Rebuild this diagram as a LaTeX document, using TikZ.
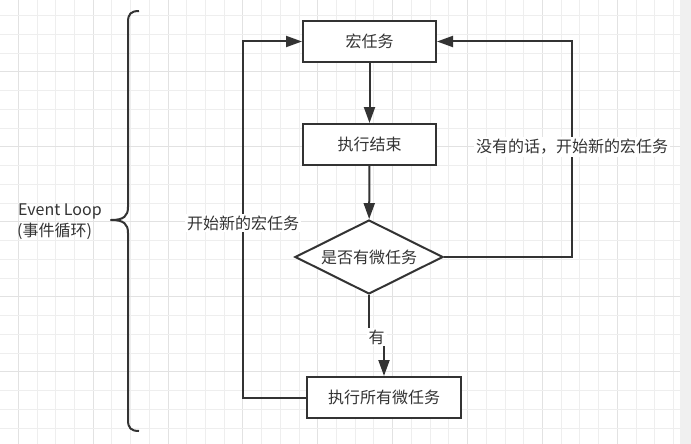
\documentclass[tikz,border=0pt]{standalone}
\usepackage{fontspec}
\setmainfont{Noto Sans CJK SC}
\usetikzlibrary{arrows.meta,shapes.geometric}
\definecolor{ink}{HTML}{333333}
\definecolor{gridminor}{HTML}{EEEEEE}
\definecolor{gridmajor}{HTML}{E2E2E2}
\definecolor{strip}{HTML}{F0F0F0}
\tikzset{
  box/.style={draw=ink, line width=2pt, fill=white, minimum width=133pt, minimum height=41pt, inner sep=0pt, font=\fontsize{16pt}{19pt}\selectfont, text=ink},
  decide/.style={draw=ink, line width=2pt, fill=white, diamond, aspect=2, minimum width=148pt, minimum height=74pt, inner sep=0pt, font=\fontsize{16pt}{19pt}\selectfont, text=ink},
  flow/.style={draw=ink, line width=2pt, -{Triangle[length=16pt,width=11pt]}},
  lbl/.style={fill=white, inner sep=2pt, font=\fontsize{16pt}{19pt}\selectfont, text=ink},
  sidetext/.style={inner sep=0pt, anchor=west, font=\fontsize{16pt}{19pt}\selectfont, text=ink},
}
\begin{document}
\begin{tikzpicture}[x=1pt, y=-1pt]
\useasboundingbox (0,0) rectangle (691,444);
\fill[white] (0,0) rectangle (691,444);
% grid
\foreach \k in {0,...,35} {
  \pgfmathtruncatemacro{\m}{mod(\k,4)}
  \ifnum\m=0 \def\gc{gridmajor}\else\def\gc{gridminor}\fi
  \draw[\gc, line width=1pt] ({18.3+18.72*\k},0) -- ({18.3+18.72*\k},444);
}
\foreach \k in {0,...,22} {
  \pgfmathtruncatemacro{\m}{mod(\k,4)}
  \ifnum\m=3 \def\gc{gridmajor}\else\def\gc{gridminor}\fi
  \draw[\gc, line width=1pt] (0,{15.7+18.75*\k}) -- (680,{15.7+18.75*\k});
}
\fill[strip] (680,0) rectangle (691,444);

% nodes
\node[box] (m) at (369.5,41.5) {宏任务};
\node[box] (e) at (369.5,144.5) {执行结束};
\node[decide] (d) at (369,257) {是否有微任务};
\node[box, minimum width=154pt] (a) at (384,397.5) {执行所有微任务};

% connectors
\draw[flow] (m) -- (e);
\draw[flow] (e) -- (d);
\coordinate (yes) at (376.5,337);
\draw[flow] (d.south) -- (d.south |- yes) -- (a.north |- yes) -- (a.north);
\node[lbl] at (yes) {有};

\coordinate (lx) at (243,223);
\draw[flow] (a.west) -| (lx) |- (m.west);
\node[lbl] at (lx) {开始新的宏任务};

\coordinate (rx) at (572,147);
\draw[flow] (d.east) -| (rx) |- (m.east);
\node[lbl] at (rx) {没有的话，开始新的宏任务};

% brace
\draw[ink, line width=2pt, line join=round]
  (139,11) .. controls (131,11) and (128,14) .. (128,22)
  -- (128,207) .. controls (128,216) and (124,220) .. (111,220)
  .. controls (124,220) and (128,224) .. (128,233)
  -- (128,420) .. controls (128,428) and (131,431) .. (139,431);

\node[sidetext] (ev) at (18,211.5) {Event Loop};
\node[sidetext] (ev2) at (17,231.5) {(事件循环)};
\end{tikzpicture}
\end{document}
